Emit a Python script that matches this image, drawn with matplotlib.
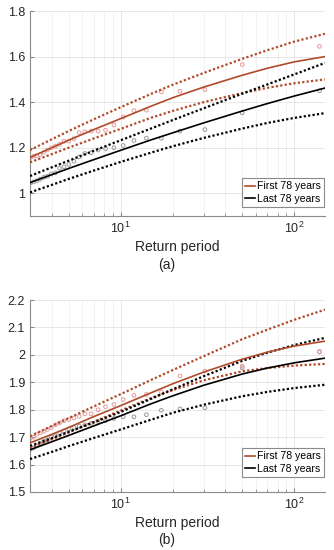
import numpy as np
import matplotlib
matplotlib.use("Agg")
import matplotlib.pyplot as plt
from matplotlib.ticker import FuncFormatter, LogLocator, NullFormatter

plt.rcParams['font.family'] = ['Liberation Sans', 'DejaVu Sans']
plt.rcParams['mathtext.default'] = 'regular'

# ---- data ----
T_curve = [3, 4, 5, 7, 10, 15, 20, 30, 50, 70, 100, 150]

# panel (a)
a_first_fit = [1.157, 1.200, 1.233, 1.280, 1.328, 1.383, 1.420, 1.466, 1.518, 1.549, 1.577, 1.600]
a_first_up = [1.190, 1.237, 1.273, 1.325, 1.378, 1.437, 1.477, 1.528, 1.590, 1.628, 1.666, 1.700]
a_first_lo = [1.136, 1.172, 1.200, 1.241, 1.283, 1.332, 1.362, 1.400, 1.440, 1.463, 1.483, 1.500]
a_last_fit = [1.047, 1.082, 1.109, 1.148, 1.189, 1.235, 1.266, 1.309, 1.361, 1.394, 1.427, 1.462]
a_last_up = [1.076, 1.114, 1.143, 1.187, 1.233, 1.285, 1.322, 1.373, 1.437, 1.478, 1.522, 1.572]
a_last_lo = [1.004, 1.037, 1.063, 1.100, 1.138, 1.179, 1.207, 1.243, 1.284, 1.309, 1.331, 1.352]

# panel (b)
b_first_fit = [1.679, 1.710, 1.735, 1.775, 1.815, 1.862, 1.895, 1.937, 1.984, 2.010, 2.032, 2.050]
b_first_up = [1.703, 1.740, 1.769, 1.812, 1.857, 1.909, 1.945, 1.995, 2.057, 2.092, 2.128, 2.165]
b_first_lo = [1.660, 1.692, 1.717, 1.756, 1.797, 1.843, 1.872, 1.907, 1.940, 1.952, 1.961, 1.967]
b_last_fit = [1.654, 1.683, 1.706, 1.741, 1.778, 1.822, 1.851, 1.889, 1.930, 1.952, 1.971, 1.988]
b_last_up = [1.668, 1.696, 1.719, 1.754, 1.792, 1.840, 1.875, 1.922, 1.978, 2.008, 2.036, 2.062]
b_last_lo = [1.620, 1.646, 1.667, 1.697, 1.728, 1.764, 1.789, 1.818, 1.849, 1.865, 1.879, 1.891]

# empirical return periods (plotting positions)
T_obs = [139.5, 50.08, 30.52, 21.94, 17.13, 14.05, 11.91, 10.33, 9.13, 8.17,
         7.40, 6.76, 6.22, 5.76, 5.37, 5.02, 4.71, 4.44, 4.20, 3.98,
         3.78, 3.60, 3.43, 3.28, 3.14, 3.01]

a_first_obs = [1.645, 1.565, 1.455, 1.448, 1.445, 1.365, 1.363, 1.335, 1.300, 1.277,
               1.273, 1.273, 1.270, 1.267, 1.240, 1.229, 1.229, 1.215, 1.207, 1.200,
               1.190, 1.180, 1.170, 1.165, 1.163, 1.155]
a_last_obs = [1.450, 1.353, 1.280, 1.273, 1.242, 1.242, 1.232, 1.210, 1.200, 1.196,
              1.190, 1.178, 1.175, 1.160, 1.141, 1.127, 1.117, 1.110, 1.090, 1.085,
              1.075, 1.070, 1.062, 1.055, 1.050, 1.045]

b_first_obs = [2.010, 1.959, 1.941, 1.923, 1.864, 1.856, 1.852, 1.837, 1.819, 1.811,
               1.800, 1.785, 1.785, 1.776, 1.770, 1.764, 1.760, 1.752, 1.745, 1.735,
               1.728, 1.721, 1.715, 1.710, 1.700, 1.695]
b_last_obs = [2.012, 1.953, 1.807, 1.803, 1.798, 1.782, 1.774, 1.774, 1.768, 1.760,
              1.757, 1.750, 1.745, 1.740, 1.735, 1.730, 1.722, 1.715, 1.705, 1.700,
              1.690, 1.685, 1.675, 1.668, 1.660, 1.655]

labels = ["First 78 years", "Last 78 years"]
panel_tags = ["(a)", "(b)"]

RED = "#b04a2a"
RED_PT = "#e59a98"
BLK = "#000000"
GRY_PT = "#9a9a9a"

fig = plt.figure(figsize=(3.34, 5.5), dpi=100)
ax1 = fig.add_axes([0.0898, 0.607, 0.883, 0.373])
ax2 = fig.add_axes([0.0898, 0.1055, 0.883, 0.349])

panels = [
    (ax1, a_first_fit, a_first_up, a_first_lo, a_last_fit, a_last_up, a_last_lo,
     a_first_obs, a_last_obs, (0.9, 1.8), [1.0, 1.2, 1.4, 1.6, 1.8], 0.044),
    (ax2, b_first_fit, b_first_up, b_first_lo, b_last_fit, b_last_up, b_last_lo,
     b_first_obs, b_last_obs, (1.5, 2.2), [1.5, 1.6, 1.7, 1.8, 1.9, 2.0, 2.1, 2.2], 0.078),
]

for i, (ax, ff, fu, fl, lf, lu, ll, fo, lo, ylim, yt, legy) in enumerate(panels):
    ax.set_xscale("log")
    ax.scatter(T_obs, lo, s=7, facecolors="none", edgecolors=GRY_PT, linewidths=0.7, zorder=2)
    ax.scatter(T_obs, fo, s=7, facecolors="none", edgecolors=RED_PT, linewidths=0.7, zorder=2)
    ax.plot(T_curve, ff, color=RED, lw=1.2, label=labels[0], zorder=4)
    ax.plot(T_curve, fu, color=RED, lw=1.6, ls=(0, (1, 1)), zorder=3)
    ax.plot(T_curve, fl, color=RED, lw=1.6, ls=(0, (1, 1)), zorder=3)
    ax.plot(T_curve, lf, color=BLK, lw=1.2, label=labels[1], zorder=4)
    ax.plot(T_curve, lu, color=BLK, lw=1.6, ls=(0, (1, 1)), zorder=3)
    ax.plot(T_curve, ll, color=BLK, lw=1.6, ls=(0, (1, 1)), zorder=3)

    ax.set_xlim(3, 150)
    ax.set_ylim(*ylim)
    ax.set_yticks(yt)
    ax.yaxis.set_major_formatter(FuncFormatter(lambda v, p: "%g" % round(v, 3)))
    ax.xaxis.set_major_locator(LogLocator(base=10, numticks=10))
    ax.xaxis.set_minor_locator(LogLocator(base=10, subs=np.arange(2, 10), numticks=10))
    ax.xaxis.set_minor_formatter(NullFormatter())
    ax.grid(True, which="major", color="#e3e3e3", lw=0.6)
    ax.grid(True, which="minor", axis="x", color="#ededed", lw=0.5)
    ax.set_axisbelow(True)
    for s in ["top", "right"]:
        ax.spines[s].set_visible(False)
    for s in ["left", "bottom"]:
        ax.spines[s].set_color("#8a8a8a")
        ax.spines[s].set_linewidth(0.8)
    ax.tick_params(axis="both", which="both", direction="in", colors="#8a8a8a",
                   labelcolor="#262626", labelsize=9)
    ax.tick_params(axis="both", which="major", length=3)
    ax.tick_params(axis="x", which="minor", length=2)
    ax.set_xlabel("Return period", fontsize=10, color="#262626", labelpad=3)
    leg = ax.legend(loc="lower right", bbox_to_anchor=(0.997, legy), fontsize=7.6,
                    frameon=True, fancybox=False, framealpha=1.0,
                    handlelength=1.0, handletextpad=0.15, borderpad=0.3,
                    labelspacing=0.25, borderaxespad=0.0)
    leg.get_frame().set_edgecolor("#8a8a8a")
    leg.get_frame().set_linewidth(0.8)

fig.text(0.5, 1 - 265 / 550, panel_tags[0], ha="center", va="center", fontsize=10, color="#262626")
fig.text(0.5, 1 - 540 / 550, panel_tags[1], ha="center", va="center", fontsize=10, color="#262626")

fig.savefig("out.png", dpi=100)
